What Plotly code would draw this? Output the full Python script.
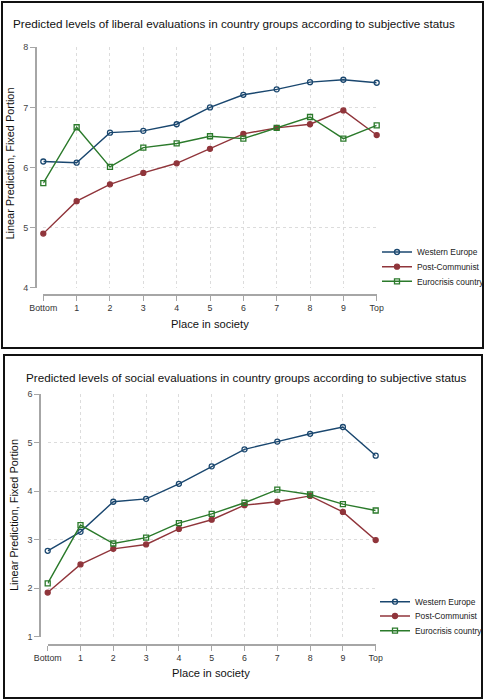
import plotly.graph_objects as go

W, H = 485, 700

# ---------------- data ----------------
places = list(range(11))
place_labels = ["Bottom", "1", "2", "3", "4", "5", "6", "7", "8", "9", "Top"]
series_names = ["Western Europe", "Post-Communist", "Eurocrisis country"]

liberal_western = [6.10, 6.08, 6.58, 6.61, 6.72, 7.00, 7.21, 7.30, 7.42, 7.46, 7.41]
liberal_postcom = [4.90, 5.44, 5.72, 5.91, 6.07, 6.31, 6.56, 6.66, 6.72, 6.95, 6.54]
liberal_eurocri = [5.74, 6.67, 6.01, 6.33, 6.40, 6.52, 6.48, 6.66, 6.84, 6.48, 6.70]

social_western = [2.77, 3.16, 3.78, 3.84, 4.15, 4.51, 4.86, 5.02, 5.18, 5.32, 4.73]
social_postcom = [1.91, 2.49, 2.81, 2.90, 3.22, 3.41, 3.71, 3.78, 3.90, 3.57, 2.99]
social_eurocri = [2.10, 3.30, 2.92, 3.04, 3.34, 3.53, 3.76, 4.03, 3.93, 3.73, 3.60]

liberal_ticks = [4, 5, 6, 7, 8]
social_ticks = [1, 2, 3, 4, 5, 6]

title_top = "Predicted levels of liberal evaluations in country groups according to subjective status"
title_bot = "Predicted levels of social evaluations in country groups according to subjective status"
ytitle = "Linear Prediction, Fixed Portion"
xtitle = "Place in society"

# ---------------- style ----------------
FONT = "Liberation Sans, Arial, sans-serif"
colors = ["#1a476f", "#90353b", "#2b7a2b"]
symbols = ["circle-open", "circle", "square-open"]
AXIS_COL = "#a6a6a6"
GRID_COL = "#dcdcdc"


def px(x):
    return x / W


def py(y):
    return 1 - y / H


fig = go.Figure()

panels = [
    dict(ax="", data=[liberal_western, liberal_postcom, liberal_eurocri],
         xdom=(43.3, 376.7), ydom=(47.3, 287.7), yr=(4, 8), ticks=liberal_ticks,
         xline=295, yline=35.7, legend_y=[252, 266.7, 281.3], legend_x=377,
         title=title_top, title_xy=(233.5, 23.5), xt_xy=(210, 324), yt_xy=(10, 163.5),
         box=(2, 2, 483, 348)),
    dict(ax="2", data=[social_western, social_postcom, social_eurocri],
         xdom=(47.7, 375.7), ydom=(394, 636.7), yr=(1, 6), ticks=social_ticks,
         xline=645, yline=40, legend_y=[601.7, 616, 630.7], legend_x=375,
         title=title_bot, title_xy=(246, 377), xt_xy=(211.3, 672.7), yt_xy=(14, 515),
         box=(4, 355, 482, 698)),
]

annotations = []
shapes = []
legend_n = 1
layout_extra = {}

for p in panels:
    xa = "x" + p["ax"]
    ya = "y" + p["ax"]
    for i, (vals, name) in enumerate(zip(p["data"], series_names)):
        lg = "legend" if legend_n == 1 else f"legend{legend_n}"
        fig.add_trace(go.Scatter(
            x=places, y=vals, name=name, mode="lines+markers",
            line=dict(color=colors[i], width=1.4),
            marker=dict(symbol=symbols[i], size=5, color=colors[i],
                        line=dict(color=colors[i], width=1.3)),
            xaxis=xa, yaxis=ya, cliponaxis=False, legend=lg,
        ))
        layout_extra[lg] = dict(
            x=px(p["legend_x"]), y=py(p["legend_y"][i]), xanchor="left", yanchor="middle",
            bgcolor="rgba(0,0,0,0)", borderwidth=0,
            font=dict(family=FONT, size=8.4, color="#222"),
            itemwidth=30, tracegroupgap=0,
        )
        legend_n += 1

    xkey = "xaxis" + p["ax"]
    ykey = "yaxis" + p["ax"]
    layout_extra[xkey] = dict(
        domain=[px(p["xdom"][0]), px(p["xdom"][1])], range=[0, 10],
        anchor="free", position=py(p["xline"]),
        tickvals=places, ticktext=place_labels, ticks="outside", ticklen=5,
        tickcolor=AXIS_COL, tickwidth=1.3,
        showline=True, linecolor=AXIS_COL, linewidth=1.5,
        showgrid=True, gridcolor=GRID_COL, griddash="dot", gridwidth=1,
        zeroline=False, tickfont=dict(family=FONT, size=8.8, color="#333"),
    )
    layout_extra[ykey] = dict(
        domain=[py(p["ydom"][1]), py(p["ydom"][0])], range=list(p["yr"]),
        anchor="free", position=px(p["yline"]),
        tickvals=p["ticks"], ticks="outside", ticklen=5,
        tickcolor=AXIS_COL, tickwidth=1.3,
        showline=True, linecolor=AXIS_COL, linewidth=1.5,
        showgrid=True, gridcolor=GRID_COL, griddash="dot", gridwidth=1,
        zeroline=False, tickfont=dict(family=FONT, size=9, color="#444"),
    )

    annotations.append(dict(text=p["title"], x=px(p["title_xy"][0]), y=py(p["title_xy"][1]),
                            xref="paper", yref="paper", showarrow=False,
                            xanchor="center", yanchor="middle",
                            font=dict(family=FONT, size=11.7, color="#111")))
    annotations.append(dict(text=xtitle, x=px(p["xt_xy"][0]), y=py(p["xt_xy"][1]),
                            xref="paper", yref="paper", showarrow=False,
                            xanchor="center", yanchor="middle",
                            font=dict(family=FONT, size=11.2, color="#111")))
    annotations.append(dict(text=ytitle, x=px(p["yt_xy"][0]), y=py(p["yt_xy"][1]),
                            xref="paper", yref="paper", showarrow=False, textangle=-90,
                            xanchor="center", yanchor="middle",
                            font=dict(family=FONT, size=10.9, color="#111")))
    x0, y0, x1, y1 = p["box"]
    shapes.append(dict(type="rect", xref="paper", yref="paper",
                       x0=px(x0), x1=px(x1), y0=py(y1), y1=py(y0),
                       line=dict(color="#111", width=2), fillcolor="rgba(0,0,0,0)"))

fig.update_layout(
    width=W, height=H,
    margin=dict(l=0, r=0, t=0, b=0, pad=0, autoexpand=False),
    paper_bgcolor="white", plot_bgcolor="white",
    showlegend=True,
    annotations=annotations, shapes=shapes,
    font=dict(family=FONT),
    **layout_extra,
)

fig.write_html(
    "out.html",
    config={"displayModeBar": False},
    post_script="document.body.style.margin='0';document.body.style.overflow='hidden';",
)
